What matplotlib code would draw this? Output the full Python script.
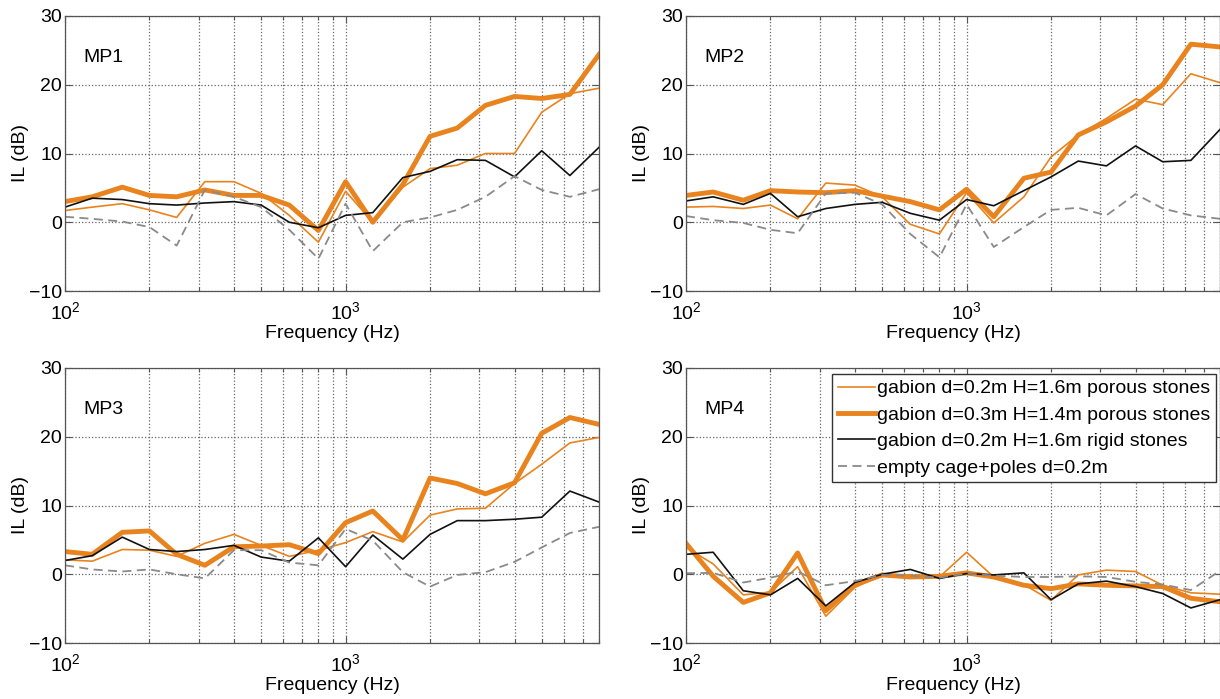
import numpy as np
import matplotlib
matplotlib.use("Agg")
import matplotlib.pyplot as plt
from matplotlib.ticker import LogLocator, NullFormatter, FixedLocator

plt.rcParams['font.family'] = ['Liberation Sans', 'DejaVu Sans']
plt.rcParams['mathtext.default'] = 'regular'

freq = [100, 125, 160, 200, 250, 315, 400, 500, 630, 800, 1000, 1250,
        1600, 2000, 2500, 3150, 4000, 5000, 6300, 8000]

labels = ["gabion d=0.2m H=1.6m porous stones",
          "gabion d=0.3m H=1.4m porous stones",
          "gabion d=0.2m H=1.6m rigid stones",
          "empty cage+poles d=0.2m"]

# MP1
mp1_thin = [1.7, 2.2, 2.7, 1.8, 0.7, 5.9, 5.9, 4.2, 1.0, -2.9, 4.5, 0.0,
            5.1, 7.8, 8.3, 10.0, 10.0, 16.0, 18.7, 19.5]
mp1_thick = [3.0, 3.7, 5.1, 3.9, 3.7, 4.7, 3.9, 3.9, 2.5, -1.2, 5.9, 0.0,
             5.5, 12.5, 13.7, 17.0, 18.3, 18.0, 18.6, 24.4]
mp1_rigid = [2.2, 3.5, 3.3, 2.7, 2.5, 2.8, 3.0, 2.5, 0.0, -0.8, 1.0, 1.4,
             6.5, 7.4, 9.1, 9.0, 6.6, 10.4, 6.8, 10.9]
mp1_empty = [0.8, 0.5, 0.1, -0.7, -3.4, 4.7, 3.7, 2.2, -1.1, -5.3, 2.7, -4.2,
             0.0, 0.7, 1.8, 3.7, 6.7, 4.7, 3.7, 4.8]

# MP2
mp2_thin = [2.2, 2.3, 2.0, 2.5, 0.5, 5.7, 5.4, 3.7, -0.3, -1.7, 4.3, -0.1,
            3.7, 9.5, 12.7, 15.1, 17.9, 17.1, 21.6, 20.3]
mp2_thick = [3.9, 4.4, 3.2, 4.6, 4.4, 4.3, 4.6, 3.8, 3.0, 1.8, 4.8, 0.8,
             6.4, 7.3, 12.7, 14.6, 16.9, 20.0, 25.9, 25.5]
mp2_rigid = [3.1, 3.7, 2.6, 4.2, 0.8, 2.0, 2.6, 2.9, 1.3, 0.3, 3.3, 2.4,
             4.6, 6.6, 8.9, 8.2, 11.1, 8.8, 9.0, 13.5]
mp2_empty = [0.9, 0.3, -0.1, -1.1, -1.6, 4.2, 4.3, 2.6, -1.7, -5.1, 2.6, -3.6,
             -0.7, 1.8, 2.1, 1.0, 4.1, 2.0, 1.0, 0.5]

# MP3
mp3_thin = [2.1, 1.9, 3.6, 3.5, 2.6, 4.5, 5.8, 4.2, 2.6, 3.5, 4.6, 6.2,
            4.7, 8.6, 9.5, 9.6, 13.2, 16.0, 19.1, 19.9]
mp3_thick = [3.3, 2.9, 6.1, 6.3, 2.9, 1.3, 4.0, 4.1, 4.3, 3.0, 7.5, 9.2,
             5.0, 14.0, 13.2, 11.7, 13.3, 20.5, 22.8, 21.8]
mp3_rigid = [2.0, 2.7, 5.4, 3.6, 3.3, 3.6, 4.2, 2.5, 1.9, 5.3, 1.1, 5.7,
             2.2, 5.8, 7.8, 7.8, 8.0, 8.3, 12.1, 10.5]
mp3_empty = [1.3, 0.7, 0.4, 0.7, 0.0, -0.6, 3.5, 3.5, 1.7, 1.3, 6.6, 4.9,
             0.3, -1.8, -0.1, 0.3, 1.8, 3.9, 6.0, 6.9]

# MP4
mp4_thin = [3.9, 1.5, -3.0, -2.6, 1.1, -6.1, -1.9, -0.2, -0.1, -0.4, 3.2, -0.4,
            -1.5, -3.8, -0.1, 0.6, 0.4, -1.6, -2.7, -2.9]
mp4_thick = [4.5, -0.3, -4.1, -2.7, 3.1, -5.3, -1.5, -0.1, -0.4, -0.3, 0.2, -0.4,
             -1.6, -2.1, -1.4, -1.6, -1.7, -1.8, -3.5, -4.0]
mp4_rigid = [2.9, 3.2, -2.4, -3.0, -0.6, -4.6, -1.2, 0.0, 0.7, -0.6, 0.1, -0.1,
             0.2, -3.7, -1.4, -1.0, -1.8, -2.8, -4.9, -3.7]
mp4_empty = [0.15, 0.2, -1.2, -0.5, 0.4, -1.6, -1.0, -0.1, -0.2, -0.5, 0.1, -0.2,
             -0.4, -0.4, -0.3, -0.4, -1.1, -1.5, -2.3, 0.5]

panels = [("MP1", mp1_thin, mp1_thick, mp1_rigid, mp1_empty),
          ("MP2", mp2_thin, mp2_thick, mp2_rigid, mp2_empty),
          ("MP3", mp3_thin, mp3_thick, mp3_rigid, mp3_empty),
          ("MP4", mp4_thin, mp4_thick, mp4_rigid, mp4_empty)]

W, H = 1220, 699
fig = plt.figure(figsize=(W / 100, H / 100), dpi=100)

ax_w, ax_h = 534, 275
positions = [(65, 16), (686, 16), (65, 368), (686, 368)]  # left, top in px

orange = '#E8831E'
fs = 14

for (name, thin, thick, rigid, empty), (lx, ty) in zip(panels, positions):
    ax = fig.add_axes([lx / W, 1 - (ty + ax_h) / H, ax_w / W, ax_h / H])
    ax.plot(freq, thin, color=orange, lw=1.2, label=labels[0])
    ax.plot(freq, thick, color=orange, lw=3.5, label=labels[1])
    ax.plot(freq, rigid, color='#111111', lw=1.2, label=labels[2])
    ax.plot(freq, empty, color='#8a8a8a', lw=1.3, ls=(0, (5, 3)),
            label=labels[3])
    ax.set_xscale('log')
    ax.set_xlim(100, 8000)
    ax.set_ylim(-10, 30)
    ax.set_yticks([-10, 0, 10, 20, 30])
    ax.xaxis.set_major_locator(FixedLocator([100, 1000]))
    ax.xaxis.set_minor_locator(LogLocator(base=10, subs=np.arange(2, 10)))
    ax.xaxis.set_minor_formatter(NullFormatter())
    ax.set_xticklabels([r'$10^{2}$', r'$10^{3}$'])
    ax.grid(True, which='both', axis='x', ls=':', color='#666666', lw=0.9)
    ax.grid(True, which='major', axis='y', ls=':', color='#666666', lw=0.9)
    ax.tick_params(which='both', direction='in', top=True, right=True,
                   labelsize=fs, colors='#000000')
    ax.tick_params(which='major', length=5, width=0.8, color='#555555')
    ax.tick_params(which='minor', length=3, width=0.8, color='#555555')
    ax.tick_params(axis='y', pad=2)
    ax.tick_params(axis='x', pad=7)
    for sp in ax.spines.values():
        sp.set_color('#555555')
        sp.set_linewidth(0.9)
    ax.set_xlabel('Frequency (Hz)', fontsize=fs, labelpad=2)
    ax.set_ylabel('IL (dB)', fontsize=fs)
    ax.yaxis.set_label_coords(-0.068, 0.5)
    ax.text(0.034, 0.85, name, transform=ax.transAxes, fontsize=fs,
            va='center', ha='left')
    if name == "MP4":
        leg = ax.legend(loc='upper right', bbox_to_anchor=(0.993, 0.978),
                        fontsize=fs, frameon=True, fancybox=False,
                        framealpha=1, edgecolor='#333333',
                        handlelength=1.9, handletextpad=0.1,
                        borderpad=0.3, labelspacing=0.45, borderaxespad=0)
        leg.get_frame().set_linewidth(1.0)

fig.savefig('out.png', dpi=100)
